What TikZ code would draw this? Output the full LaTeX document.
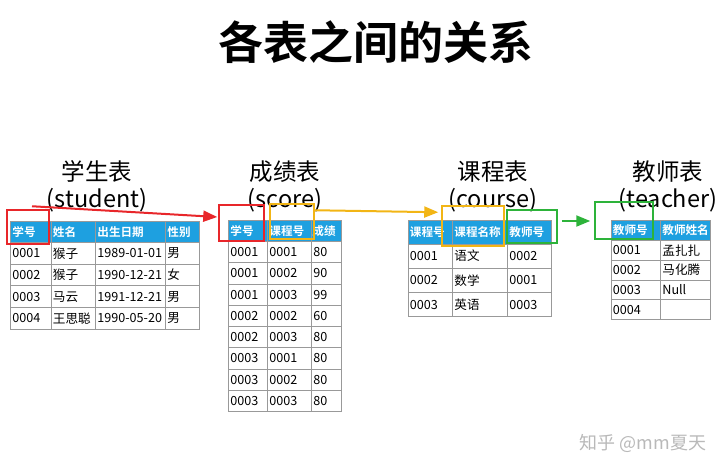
\documentclass[tikz,border=0pt]{standalone}
\usepackage{fontspec}
\setmainfont{Noto Sans CJK SC}[BoldFont={Noto Sans CJK SC Bold}]
\usepackage{tikz}
\usetikzlibrary{arrows.meta, positioning, calc}

\definecolor{hdrblue}{HTML}{1EA0E0}
\definecolor{keyred}{HTML}{E8262A}
\definecolor{keyyellow}{HTML}{F2B515}
\definecolor{keygreen}{HTML}{2DB33A}

\begin{document}
\begin{tikzpicture}[
    x=1pt, y=-1pt,
    font=\fontsize{12.6}{14}\selectfont,
    cell/.style={draw=gray!80, line width=0.8pt, anchor=north west, inner xsep=2pt, inner ysep=0pt, align=left},
    hcell/.style={cell, fill=hdrblue, text=white, font=\fontsize{11.6}{14}\bfseries},
    tname/.style={align=center, font=\fontsize{23.5}{27}\selectfont},
    keybox/.style={draw=#1, line width=1.5pt, inner sep=0pt},
    link/.style={-{Triangle[length=14pt, width=11pt]}, line width=2pt, #1}
]
\useasboundingbox (0,0) rectangle (720,474);

% Title
\node[font=\fontsize{45}{48}\bfseries] (title) at (376,42) {各表之间的关系};

% Table names
\node[tname] (stuName) at (97,186) {学生表\\(student)};
\node[tname] (scoName) at (285,186) {成绩表\\(score)};
\node[tname] (couName) at (493,186) {课程表\\(course)};
\node[tname] (teaName) at (668,186) {教师表\\(teacher)};

% student
\node[hcell, text width=36.5pt, minimum height=21pt] (stu-0-1) at (10,221) {学号};
\node[hcell, text width=40.5pt, minimum height=21pt] (stu-0-2) at (50.5,221) {姓名};
\node[hcell, text width=66pt, minimum height=21pt] (stu-0-3) at (95,221) {出生日期};
\node[hcell, text width=30pt, minimum height=21pt] (stu-0-4) at (165,221) {性别};
\foreach \a/\b/\c/\d [count=\r] in {0001/猴子/1989-01-01/男, 0002/猴子/1990-12-21/女, 0003/马云/1991-12-21/男, 0004/王思聪/1990-05-20/男} {
  \node[cell, text width=36.5pt, minimum height=21.7pt] (stu-\r-1) at (10,{242+21.7*(\r-1)}) {\a};
  \node[cell, text width=40.5pt, minimum height=21.7pt] (stu-\r-2) at (50.5,{242+21.7*(\r-1)}) {\b};
  \node[cell, text width=66pt, minimum height=21.7pt] (stu-\r-3) at (95,{242+21.7*(\r-1)}) {\c};
  \node[cell, text width=30pt, minimum height=21.7pt] (stu-\r-4) at (165,{242+21.7*(\r-1)}) {\d};
}

% score
\node[hcell, text width=35pt, minimum height=21pt] (sco-0-1) at (228,220) {学号};
\node[hcell, text width=40pt, minimum height=21pt] (sco-0-2) at (267,220) {课程号};
\node[hcell, text width=28pt, minimum height=21pt, inner xsep=1pt] (sco-0-3) at (311,220) {成绩};
\foreach \a/\b/\c [count=\r] in {0001/0001/80, 0001/0002/90, 0001/0003/99, 0002/0002/60, 0002/0003/80, 0003/0001/80, 0003/0002/80, 0003/0003/80} {
  \node[cell, text width=35pt, minimum height=21.25pt] (sco-\r-1) at (228,{241+21.25*(\r-1)}) {\a};
  \node[cell, text width=40pt, minimum height=21.25pt] (sco-\r-2) at (267,{241+21.25*(\r-1)}) {\b};
  \node[cell, text width=26pt, minimum height=21.25pt] (sco-\r-3) at (311,{241+21.25*(\r-1)}) {\c};
}

% course
\node[hcell, text width=40.5pt, minimum height=23.5pt] (cou-0-1) at (407.5,220) {课程号};
\node[hcell, text width=51pt, minimum height=23.5pt] (cou-0-2) at (452,220) {课程名称};
\node[hcell, text width=39.5pt, minimum height=23.5pt] (cou-0-3) at (507,220) {教师号};
\foreach \a/\b/\c [count=\r] in {0001/语文/0002, 0002/数学/0001, 0003/英语/0003} {
  \node[cell, text width=40.5pt, minimum height=24.3pt] (cou-\r-1) at (407.5,{243.5+24.3*(\r-1)}) {\a};
  \node[cell, text width=51pt, minimum height=24.3pt] (cou-\r-2) at (452,{243.5+24.3*(\r-1)}) {\b};
  \node[cell, text width=39.5pt, minimum height=24.3pt] (cou-\r-3) at (507,{243.5+24.3*(\r-1)}) {\c};
}

% teacher
\node[hcell, text width=45.5pt, minimum height=20pt] (tea-0-1) at (610.5,220) {教师号};
\node[hcell, text width=46pt, minimum height=20pt] (tea-0-2) at (660,220) {教师姓名};
\foreach \a/\b [count=\r] in {0001/孟扎扎, 0002/马化腾, 0003/Null, 0004/{}} {
  \node[cell, text width=45.5pt, minimum height=19.75pt] (tea-\r-1) at (610.5,{240+19.75*(\r-1)}) {\a};
  \node[cell, text width=46pt, minimum height=19.75pt] (tea-\r-2) at (660,{240+19.75*(\r-1)}) {\b};
}

% Key boxes
\node[keybox=keyred, minimum width=42pt, minimum height=34pt] (stuKey) at (28,227) {};
\node[keybox=keyred, minimum width=45pt, minimum height=36pt] (scoStu) at (241.5,223) {};
\node[keybox=keyyellow, minimum width=44pt, minimum height=35pt] (scoCou) at (292,221.5) {};
\node[keybox=keyyellow, minimum width=62pt, minimum height=40pt] (couKey) at (473,226) {};
\node[keybox=keygreen, minimum width=50pt, minimum height=33pt] (couTea) at (532,226.5) {};
\node[keybox=keygreen, minimum width=58pt, minimum height=37pt] (teaKey) at (624,220.5) {};

% Arrows
\draw[link=keyred] ($(stuKey.north)+(4,-3)$) -- ($(scoStu.west)+(-1,-6)$);
\draw[link=keyyellow] ($(scoCou.north east)+(0,7)$) -- ($(couKey.north west)+(-3,7)$);
\draw[link=keygreen] ($(couTea.east)+(4,-5.5)$) -- ($(teaKey.west)+(-4,0.5)$);

% Watermark
\node[text=gray!55, font=\fontsize{18}{20}\selectfont] (mark) at (643,443) {知乎 @mm夏天};
\end{tikzpicture}
\end{document}
